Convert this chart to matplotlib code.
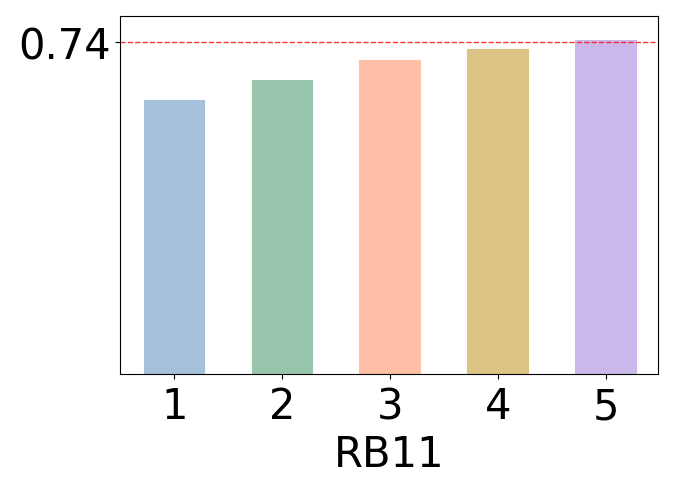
import matplotlib
matplotlib.use("Agg")
import matplotlib.pyplot as plt

# data
positions = [1, 2, 3, 4, 5]
values = [0.609, 0.655, 0.698, 0.724, 0.744]
colors = ['#A5C0DA', '#9AC5AD', '#FFBEA6', '#DCC487', '#CBB8EB']
best = 0.74
xlabel = 'RB11'

fig, ax = plt.subplots(figsize=(6.76, 4.89), dpi=100)
fig.subplots_adjust(left=0.178, right=0.973, top=0.966, bottom=0.234)

ax.bar(positions, values, width=0.55, color=colors, edgecolor=colors, linewidth=1.5)
ax.axhline(best, color='red', linestyle='--', linewidth=1, alpha=0.8)

ax.set_xlim(0.5, 5.48)
ax.set_ylim(0, 0.8)
ax.set_xticks(positions)
ax.set_xticklabels([str(p) for p in positions])
ax.set_yticks([best])
ax.set_yticklabels(['0.74'])
ax.tick_params(labelsize=30)
ax.tick_params(axis='x', pad=5)
ax.set_xlabel(xlabel, fontsize=30, labelpad=4)

fig.savefig('out.png', dpi=100)
